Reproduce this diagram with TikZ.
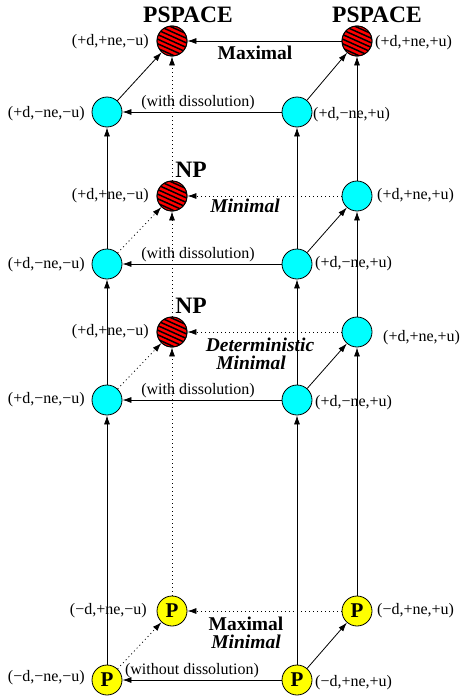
\documentclass[tikz,border=0pt]{standalone}
\usepackage{fontspec}
\setmainfont{Liberation Serif}
\usetikzlibrary{arrows.meta}
\definecolor{cyn}{RGB}{0,255,255}
\definecolor{ylw}{RGB}{255,255,0}
\definecolor{rdd}{RGB}{255,0,0}
\newcommand\hatchit[1]{%
  \begin{scope}
    \clip (#1.center) circle (15);
    \foreach \k in {-6,...,6} {
      \draw[line width=1.5pt] ([shift={(-20,\k*4.6-9)}]#1.center) -- ([shift={(20,\k*4.6+9)}]#1.center);
    }
  \end{scope}
  \draw[line width=0.8pt] (#1.center) circle (15);
}
\begin{document}
\begin{tikzpicture}[x=1pt,y=-1pt,
  st/.style={circle, draw=black, line width=0.8pt, minimum size=30pt, inner sep=0pt},
  cy/.style={st, fill=cyn},
  rd/.style={st, fill=rdd},
  yl/.style={st, fill=ylw, font=\fontsize{21}{22}\selectfont\bfseries},
  lab/.style={font=\fontsize{16}{18}\selectfont, inner sep=0pt},
  ttl/.style={font=\fontsize{23.5}{26}\selectfont\bfseries, inner sep=0pt, anchor=base},
  bt/.style={font=\fontsize{19.5}{22}\selectfont\bfseries, inner sep=0pt, anchor=base},
  bi/.style={font=\fontsize{19.5}{22}\selectfont\bfseries\itshape, inner sep=0pt, anchor=base},
  ar/.style={-{Latex[length=9pt,width=6pt]}, line width=0.8pt},
  dar/.style={ar, dash pattern=on 1pt off 3pt},
]
\useasboundingbox (0,0) rectangle (459,696);

% nodes
\node[rd] (b4l) at (172,41) {};
\node[rd] (b4r) at (357,41) {};
\node[cy] (f4l) at (107,112) {};
\node[cy] (f4r) at (297,112) {};
\node[rd] (b3l) at (172,196) {};
\node[cy] (b3r) at (357,196) {};
\node[cy] (f3l) at (107,264) {};
\node[cy] (f3r) at (297,264) {};
\node[rd] (b2l) at (172,332) {};
\node[cy] (b2r) at (357,332) {};
\node[cy] (f2l) at (107,400) {};
\node[cy] (f2r) at (297,400) {};
\node[yl] (b1l) at (172,611) {P};
\node[yl] (b1r) at (357,611) {P};
\node[yl] (f1l) at (107,680) {P};
\node[yl] (f1r) at (297,680) {P};

\hatchit{b4l}
\hatchit{b4r}
\hatchit{b3l}
\hatchit{b2l}

% connectors
\draw[ar] (b4r) -- (b4l);
\draw[ar] (f4r) -- (f4l);
\draw[ar] (f4l) -- (b4l);
\draw[ar] (f4r) -- (b4r);
\draw[ar] (f3l) -- (f4l);
\draw[ar] (f2l) -- (f3l);
\draw[ar] (f1l) -- (f2l);
\draw[ar] (f1r) -- (f2r);
\draw[ar] (f2r) -- (f3r);
\draw[ar] (f3r) -- (f4r);
\draw[ar] (b1r) -- (b2r);
\draw[ar] (b2r) -- (b3r);
\draw[ar] (b3r) -- (b4r);
\draw[dar] (b1l) -- (b2l);
\draw[dar] (b2l) -- (b3l);
\draw[dar] (b3l) -- (b4l);
\draw[dar] (b3r) -- (b3l);
\draw[dar] (b2r) -- (b2l);
\draw[dar] (b1r) -- (b1l);
\draw[ar] (f3r) -- (f3l);
\draw[ar] (f2r) -- (f2l);
\draw[ar] (f1r) -- (f1l);
\draw[dar] (f3l) -- (b3l);
\draw[dar] (f2l) -- (b2l);
\draw[dar] (f1l) -- (b1l);
\draw[ar] (f3r) -- (b3r);
\draw[ar] (f2r) -- (b2r);
\draw[ar] (f1r) -- (b1r);

% titles
\node[ttl] (t1) at (188,22) {PSPACE};
\node[ttl] (t2) at (377,22) {PSPACE};
\node[ttl] (t3) at (191,177) {NP};
\node[ttl] (t4) at (191,313) {NP};
\node[bt] (m1) at (255,59) {Maximal};
\node[bi] (m2) at (245,212) {Minimal};
\node[bi, text depth=0pt] (m3) at (260,351) {Deterministic};
\node[bi] (m4) at (251,369) {Minimal};
\node[font=\fontsize{19.5}{18.6}\selectfont\bfseries, inner sep=0pt, align=center] (m5) at (246,633) {Maximal\\\textit{Minimal}};

% edge texts
\node[lab] (w1) at (198,103) {(with dissolution)};
\node[lab] (w2) at (198,255) {(with dissolution)};
\node[lab] (w3) at (198,391) {(with dissolution)};
\node[lab] (w4) at (192,671) {(without dissolution)};

% coordinate labels
\node[lab, anchor=east] (l4bl) at (149,42) {(+d,+ne,−u)};
\node[lab, anchor=west] (l4br) at (375,43) {(+d,+ne,+u)};
\node[lab, anchor=east] (l4fl) at (85,114) {(+d,−ne,−u)};
\node[lab, anchor=west] (l4fr) at (313,115) {(+d,−ne,+u)};
\node[lab, anchor=east] (l3bl) at (149,196) {(+d,+ne,−u)};
\node[lab, anchor=west] (l3br) at (377,196) {(+d,+ne,+u)};
\node[lab, anchor=east] (l3fl) at (85,265) {(+d,−ne,−u)};
\node[lab, anchor=west] (l3fr) at (315,264) {(+d,−ne,+u)};
\node[lab, anchor=east] (l2bl) at (149,332) {(+d,+ne,−u)};
\node[lab, anchor=west] (l2br) at (383,338) {(+d,+ne,+u)};
\node[lab, anchor=east] (l2fl) at (85,400) {(+d,−ne,−u)};
\node[lab, anchor=west] (l2fr) at (315,403) {(+d,−ne,+u)};
\node[lab, anchor=east] (l1bl) at (147,611) {(−d,+ne,−u)};
\node[lab, anchor=west] (l1br) at (377,611) {(−d,+ne,+u)};
\node[lab, anchor=east] (l1fl) at (85,678) {(−d,−ne,−u)};
\node[lab, anchor=west] (l1fr) at (315,683) {(−d,+ne,+u)};
\end{tikzpicture}
\end{document}
